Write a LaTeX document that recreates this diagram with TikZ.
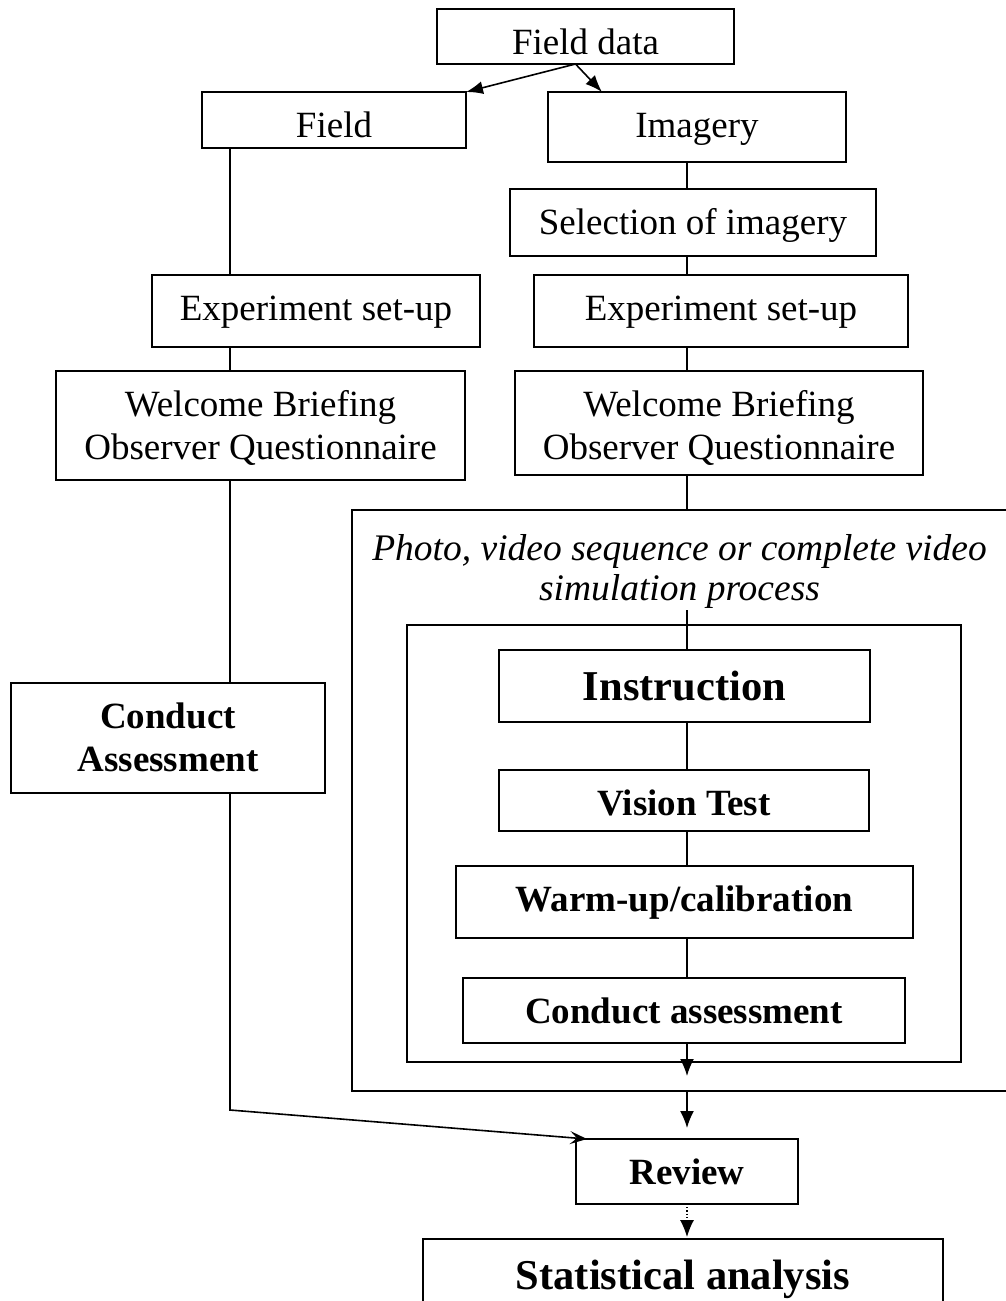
\documentclass[tikz,border=0pt]{standalone}
\usepackage{fontspec}
\setmainfont{Liberation Serif}
\usetikzlibrary{arrows.meta,calc}
\newcommand\fsreg{\fontsize{37pt}{43pt}\selectfont}
\newcommand\fsbig{\fontsize{42.5pt}{48pt}\selectfont}
\newcommand\twolines[2]{\begin{tabular}[t]{@{}c@{}}#1\\#2\end{tabular}}
\begin{document}
\begin{tikzpicture}[x=1pt,y=-1pt,
  bx/.style={draw, line width=2pt, anchor=north west, inner xsep=0pt, inner ysep=0pt,
    outer sep=0pt, text height=45pt, font=\fsreg},
  bxb/.style={bx, font=\fsreg\bfseries},
  bxbig/.style={bx, text height=50pt, font=\fsbig\bfseries},
  conn/.style={line width=1.6pt},
  arr/.style={conn, -{Latex[length=17pt,width=13pt]}},
  arrb/.style={conn, -{Latex[length=17pt,width=14pt]}},
  arro/.style={conn, -{Stealth[length=17pt,width=13pt,inset=7pt]}}
]
\useasboundingbox (0,0) rectangle (1005,1301);

% left column
\node[bx, minimum width=297pt, text depth=10pt] (fd) at (437,9) {Field data};
\node[bx, minimum width=264pt, text depth=11pt] (field) at (202,92) {Field};
\node[bx, minimum width=328pt, text depth=27pt] (expL) at (152,275) {Experiment set-up};
\node[bx, minimum width=409pt, text depth=64pt] (welL) at (56,371) {\twolines{Welcome Briefing}{Observer Questionnaire}};
\node[bxb, minimum width=314pt, text depth=65pt] (condL) at (11,683) {\twolines{Conduct}{Assessment}};

% right column
\node[bx, minimum width=298pt, text depth=25pt] (imagery) at (548,92) {Imagery};
\node[bx, minimum width=366pt, text depth=22pt] (sel) at (510,189) {Selection of imagery};
\node[bx, minimum width=374pt, text depth=27pt] (expR) at (534,275) {Experiment set-up};
\node[bx, minimum width=408pt, text depth=59pt] (welR) at (515,371) {\twolines{Welcome Briefing}{Observer Questionnaire}};

% outer container
\coordinate (otop) at (687,510);
\coordinate (obot) at (687,1091);
\draw[line width=2pt] (1010,510) -- (352,510) -- (352,1091) -- (1010,1091);
\node[anchor=base, inner sep=0pt, font=\fontsize{37.5pt}{40pt}\selectfont\itshape] (cap) at (679.5,560)
  {\begin{tabular}[t]{@{}c@{}}Photo, video sequence or complete video\\simulation process\end{tabular}};
\coordinate (capb) at (687,610);

% inner container
\node[draw, line width=2pt, anchor=north west, inner sep=0pt, outer sep=0pt,
  minimum width=554pt, minimum height=437pt] (inner) at (407,625) {};
\node[bxbig, minimum width=371pt, text depth=22pt] (instr) at (499,650) {Instruction};
\node[bxb, minimum width=370pt, text depth=16pt] (vision) at (499,770) {Vision Test};
\node[bxb, minimum width=457pt, text depth=27pt] (warm) at (456,866) {Warm-up/calibration};
\node[bxb, minimum width=442pt, text depth=20pt] (cond) at (463,978) {Conduct assessment};
\coordinate (a1) at (687,1076);

% bottom
\node[bxb, minimum width=222pt, text depth=20pt] (review) at (576,1139) {Review};
\node[bxbig, minimum width=520pt, text depth=40pt] (stat) at (423,1239) {Statistical analysis};

% connectors top
\draw[arr] ([xshift=-10pt]fd.south) -- (field.north east);
\draw[arr] ([xshift=-10pt]fd.south) -- ([xshift=54pt]imagery.north west);

% left chain
\draw[conn] ([xshift=28pt]field.south west) -- ([xshift=78pt]expL.north west);
\draw[conn] ([xshift=78pt]expL.south west) -- ([xshift=174pt]welL.north west);
\draw[conn] ([xshift=174pt]welL.south west) -- ([xshift=219pt]condL.north west);
\draw[arro] ([xshift=219pt]condL.south west) -- (230,1110) -- ([xshift=11pt]review.north west);

% right chain
\draw[conn] ([xshift=139pt]imagery.south west) -- ([xshift=177pt]sel.north west);
\draw[conn] ([xshift=177pt]sel.south west) -- ([xshift=153pt]expR.north west);
\draw[conn] ([xshift=153pt]expR.south west) -- ([xshift=172pt]welR.north west);
\draw[conn] ([xshift=172pt]welR.south west) -- (otop);
\draw[conn] (capb) -- ([xshift=188pt]instr.north west);
\draw[conn] ([xshift=188pt]instr.south west) -- ([xshift=188pt]vision.north west);
\draw[conn] ([xshift=188pt]vision.south west) -- ([xshift=231pt]warm.north west);
\draw[conn] ([xshift=231pt]warm.south west) -- ([xshift=224pt]cond.north west);
\draw[arrb] ([xshift=224pt]cond.south west) -- (a1);
\draw[arrb, shorten >=11pt] (obot) -- ([xshift=111pt]review.north west);
\draw[line width=1.2pt, dotted, -{Latex[length=17pt,width=14pt]}, shorten >=2pt]
  ([xshift=111pt]review.south west) -- ([xshift=264pt]stat.north west);
\end{tikzpicture}
\end{document}
